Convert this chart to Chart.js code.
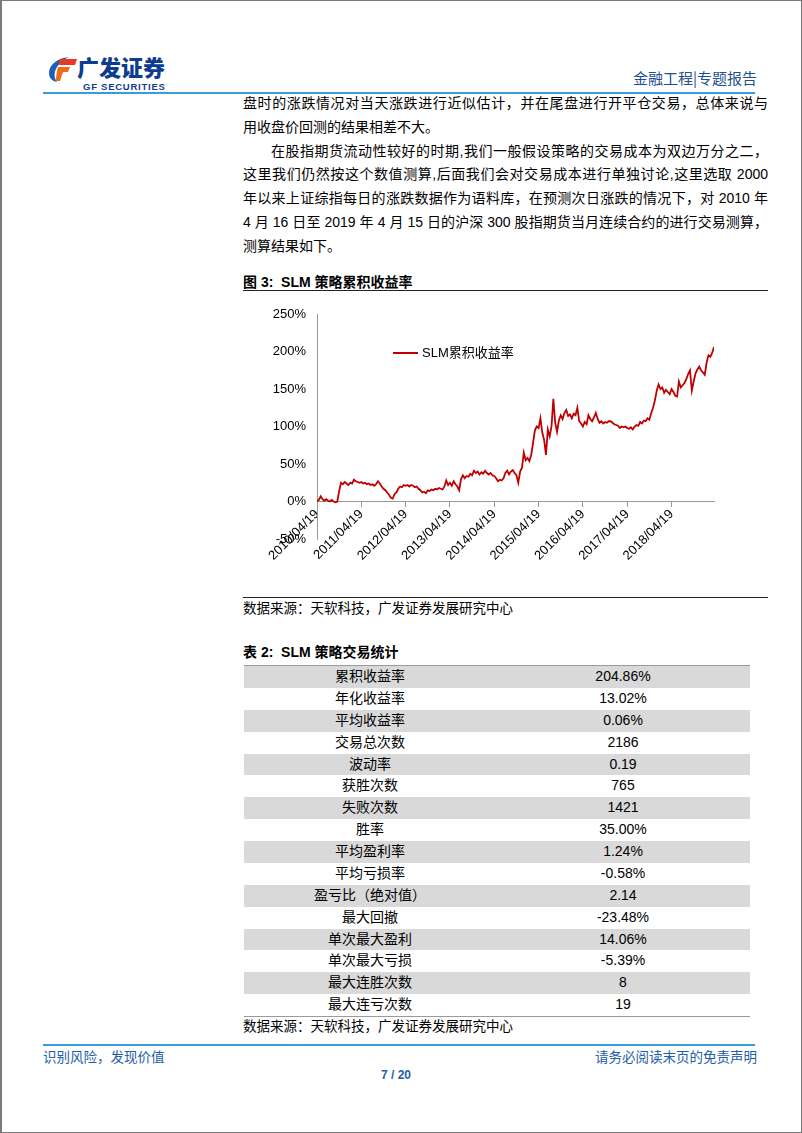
<!DOCTYPE html>
<html lang="zh-CN">
<head>
<meta charset="UTF-8">
<title>SLM 策略累积收益率</title>
<script src="https://cdn.jsdelivr.net/npm/chart.js@4.4.1/dist/chart.umd.min.js"></script>
<style>
    html, body { margin: 0; padding: 0; background: #fff; }
    body { width: 802px; height: 1133px; position: relative; overflow: hidden;
           font-family: "Liberation Sans", Arial, "Noto Sans CJK SC", sans-serif; color: #000; }
    .page { position: absolute; left: 0; top: 0; width: 802px; height: 1133px;
            border: 1px solid #7a7a7a; border-left-width: 2px; box-sizing: border-box; }
    .abs { position: absolute; white-space: nowrap; }
    .rule-blue { position: absolute; left: 43px; width: 712px; height: 2px; background: #3b9bd8; }
    .body-text { position: absolute; left: 243px; top: 92px; width: 525px;
                 font-size: 14px; line-height: 23.8px; }
    .body-text div { height: 23.8px; overflow: hidden; white-space: nowrap; }
    .body-text .full { text-align: justify; text-align-last: justify; white-space: normal; }
    .caption { font-size: 14px; font-weight: bold; }
    .source { font-size: 13.5px; }
    .chart-box { position: absolute; left: 243px; top: 295px; width: 525px; height: 295px; }
    .stats { position: absolute; left: 244px; top: 665px; width: 506px;
             border-top: 1px solid #9a9a9a; border-bottom: 1.5px solid #9a9a9a; }
    .stats .row { height: 21.875px; display: flex; font-size: 14px; line-height: 21.875px; }
    .stats .row:nth-child(odd) { background: #d9d9d9; }
    .stats .name { width: 252px; text-align: center; }
    .stats .val { width: 254px; text-align: center; }
    .blue { color: #1f5ea8; }
</style>
</head>
<body>
<div class="page"></div>

<!-- header -->
<svg class="abs" style="left:48px;top:56px" width="30" height="27" viewBox="0 0 30 27">
    <path d="M21,1 C9,2 1,9 1,17 C1,22 4,25 9,26 C6,22 6,17 8,13 C11,7 16,3 21,1 Z" fill="#1b5fb6"/>
    <path d="M12,3 L29,3 L27,9 L12,9 C11,9 10,8 12,3 Z" fill="#e23a24"/>
    <path d="M10,11 L22,11 L20,16 L15,16 L12,25 L8,25 C8,19 9,14 10,11 Z" fill="#f06a1e"/>
</svg>
<div class="abs" style="left:77px;top:55px;font-size:22px;font-weight:900;color:#0e3d8f;font-family:'Noto Sans CJK SC';line-height:22px;">广发证券</div>
<div class="abs" style="left:83px;top:82px;font-size:9.5px;font-weight:bold;color:#0e3d8f;letter-spacing:0.75px;line-height:10px;">GF SECURITIES</div>
<div class="abs" style="right:45px;top:68px;font-size:15px;color:#1f4f8f;line-height:20px;font-family:'Noto Sans CJK SC';">金融工程|专题报告</div>
<div class="rule-blue" style="top:92px"></div>

<!-- body text -->
<div class="body-text">
    <div class="full">盘时的涨跌情况对当天涨跌进行近似估计，并在尾盘进行开平仓交易，总体来说与</div>
    <div>用收盘价回测的结果相差不大。</div>
    <div class="full" style="padding-left:28px">在股指期货流动性较好的时期,我们一般假设策略的交易成本为双边万分之二，</div>
    <div class="full">这里我们仍然按这个数值测算,后面我们会对交易成本进行单独讨论,这里选取 2000</div>
    <div class="full">年以来上证综指每日的涨跌数据作为语料库，在预测次日涨跌的情况下，对 2010 年</div>
    <div class="full">4 月 16 日至 2019 年 4 月 15 日的沪深 300 股指期货当月连续合约的进行交易测算，</div>
    <div>测算结果如下。</div>
</div>

<!-- figure -->
<div class="abs caption" style="left:243px;top:273px;line-height:18px;">图 3:&nbsp; SLM 策略累积收益率</div>
<div class="abs" style="left:243px;top:290px;width:525px;height:1px;background:#222;"></div>
<div class="chart-box"><canvas id="slmChart"></canvas></div>
<div class="abs" style="left:243px;top:597px;width:525px;height:1px;background:#222;"></div>
<div class="abs source" style="left:243px;top:600px;line-height:18px;">数据来源：天软科技，广发证券发展研究中心</div>

<!-- table -->
<div class="abs caption" style="left:243px;top:643px;line-height:18px;">表 2:&nbsp; SLM 策略交易统计</div>
<div class="stats" id="stats"></div>
<div class="abs source" style="left:243px;top:1018px;line-height:18px;">数据来源：天软科技，广发证券发展研究中心</div>

<!-- footer -->
<div class="rule-blue" style="top:1044px"></div>
<div class="abs blue" style="left:43px;top:1049px;font-size:13.5px;line-height:18px;">识别风险，发现价值</div>
<div class="abs blue" style="right:45px;top:1049px;font-size:13.5px;line-height:18px;">请务必阅读末页的免责声明</div>
<div class="abs blue" style="left:376px;top:1067px;width:40px;text-align:center;font-size:12px;font-weight:bold;line-height:16px;">7 / 20</div>

<script>
    // x tick labels, one per year
    const tickLabels = ['2010/04/19', '2011/04/19', '2012/04/19', '2013/04/19', '2014/04/19',
                        '2015/04/19', '2016/04/19', '2017/04/19', '2018/04/19'];
    const stepsPerYear = 24; // roughly half-month samples

    // cumulative return (%), 2010/04 .. 2019/04
    const slmReturn = [
        0, 2, 7, 3, 1, 3, 1, 0, 2, 0, -1, 0, 14, 25, 23, 26, 24, 22, 25, 24, 29, 27, 26, 25,
        26, 24, 25, 23, 24, 22, 23, 21, 23, 27, 24, 20, 17, 15, 12, 9, 5, 4, 10, 12, 17, 20, 19, 22,
        21, 22, 20, 22, 21, 19, 20, 17, 15, 12, 13, 11, 15, 14, 16, 15, 17, 16, 18, 17, 16, 20, 28, 22,
        25, 21, 27, 23, 20, 15, 30, 35, 31, 34, 33, 37, 35, 41, 38, 40, 36, 39, 37, 41, 38, 36, 38, 35,
        34, 31, 27, 29, 28, 31, 38, 41, 36, 40, 42, 38, 35, 25, 40, 45, 65, 55, 58, 54, 62, 78, 95, 100,
        98, 111, 92, 82, 62, 96, 87, 100, 137, 105, 93, 108, 115, 110, 118, 122, 114, 116, 111, 117, 115, 125, 107, 104,
        100, 106, 103, 115, 110, 107, 112, 118, 110, 105, 107, 104, 106, 105, 107, 107, 105, 103, 102, 101, 98, 100, 99, 100,
        98, 97, 99, 96, 100, 102, 101, 106, 104, 108, 107, 111, 109, 118, 125, 135, 148, 156, 150, 152, 145, 149, 146, 143,
        150, 146, 141, 140, 160, 152, 155, 158, 163, 170, 175, 148, 160, 171, 176, 180, 175, 172, 169, 185, 195, 193, 198, 206
    ];

    const statNames = ['累积收益率', '年化收益率', '平均收益率', '交易总次数', '波动率', '获胜次数', '失败次数', '胜率',
                       '平均盈利率', '平均亏损率', '盈亏比（绝对值）', '最大回撤', '单次最大盈利', '单次最大亏损',
                       '最大连胜次数', '最大连亏次数'];
    const statValues = ['204.86%', '13.02%', '0.06%', '2186', '0.19', '765', '1421', '35.00%',
                        '1.24%', '-0.58%', '2.14', '-23.48%', '14.06%', '-5.39%', '8', '19'];

    const stats = document.getElementById('stats');
    statNames.forEach((name, i) => {
        const row = document.createElement('div');
        row.className = 'row';
        row.innerHTML = '<div class="name">' + name + '</div><div class="val">' + statValues[i] + '</div>';
        stats.appendChild(row);
    });

    const tickFont = { family: '"Liberation Sans", Arial, sans-serif', size: 13 };

    // legend drawn inside the plot area, like the original
    const innerLegend = {
        id: 'innerLegend',
        afterDraw(chart) {
            const ctx = chart.ctx;
            const ds = chart.data.datasets[0];
            const x = chart.chartArea.left + 76;
            const y = chart.chartArea.top + 39;
            ctx.save();
            ctx.strokeStyle = ds.borderColor;
            ctx.lineWidth = 2;
            ctx.beginPath();
            ctx.moveTo(x, y);
            ctx.lineTo(x + 25, y);
            ctx.stroke();
            ctx.fillStyle = '#000';
            ctx.font = '13px "Liberation Sans", "Noto Sans CJK SC", sans-serif';
            ctx.textBaseline = 'middle';
            ctx.fillText(ds.label, x + 29, y);
            ctx.restore();
        }
    };

    new Chart(document.getElementById('slmChart'), {
        type: 'line',
        data: {
            datasets: [{
                label: 'SLM累积收益率',
                data: slmReturn.map((v, i) => ({ x: i / stepsPerYear, y: v })),
                borderColor: '#c00000',
                borderWidth: 1.8,
                pointRadius: 0,
                tension: 0
            }]
        },
        options: {
            responsive: true,
            maintainAspectRatio: false,
            animation: false,
            layout: { padding: { top: 19, right: 54, bottom: 51, left: 0 } },
            plugins: { legend: { display: false }, tooltip: { enabled: false } },
            scales: {
                x: {
                    type: 'linear',
                    position: { y: 0 },
                    min: 0,
                    max: (slmReturn.length - 1) / stepsPerYear,
                    afterBuildTicks: s => { s.ticks = s.ticks.filter(t => Number.isInteger(t.value)); },
                    ticks: {
                        stepSize: 1,
                        autoSkip: false,
                        maxRotation: 45,
                        minRotation: 45,
                        padding: 0,
                        color: '#000',
                        font: tickFont,
                        callback: v => tickLabels[v]
                    },
                    grid: { drawOnChartArea: false, color: '#999', tickLength: 5 },
                    border: { color: '#999' }
                },
                y: {
                    min: -50,
                    max: 250,
                    afterFit: s => { s.width = 74; },
                    ticks: { stepSize: 50, padding: 11, color: '#000', font: tickFont, callback: v => v + '%' },
                    grid: { drawOnChartArea: false, drawTicks: false, color: '#999' },
                    border: { color: '#999' }
                }
            }
        },
        plugins: [innerLegend]
    });
</script>
</body>
</html>
